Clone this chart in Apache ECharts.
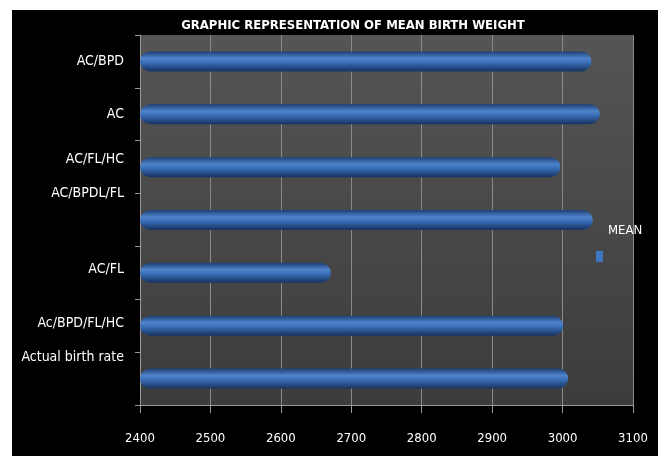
<!DOCTYPE html>
<html>
<head>
<meta charset="utf-8">
<script src="https://cdn.jsdelivr.net/npm/echarts@6/dist/echarts.min.js"></script>
<style>
  html, body { margin: 0; padding: 0; background: #fff; }
  #chart { width: 663px; height: 456px; }
</style>
</head>
<body>
<div id="chart"></div>
<script>
// categories, top to bottom
const categories = ["AC/BPD", "AC", "AC/FL/HC", "AC/BPDL/FL", "AC/FL", "Ac/BPD/FL/HC", "Actual birth rate"];
// mean birth weight (g)
const meanValues = [3041, 3053, 2997, 3043, 2671, 3001, 3008];
// how far each label sits above its bar in the original (px)
const labelLift = [0, 0, 8, 27, 3, 2, 21];
const xTicks = [2400, 3100, 100];

const FONT = "'DejaVu Sans Condensed', 'Liberation Sans', sans-serif";

const chart = echarts.init(document.getElementById("chart"));

const cylinder = new echarts.graphic.LinearGradient(0, 0, 0, 1, [
  { offset: 0, color: "#1f3f74" },
  { offset: 0.35, color: "#4f84cc" },
  { offset: 0.55, color: "#3a6fb8" },
  { offset: 1, color: "#173260" }
]);

// rich styles that lift some labels off their tick
const labelRich = {};
labelLift.forEach((d, i) => {
  labelRich["l" + i] = {
    color: "#fff",
    fontFamily: FONT,
    fontSize: 14,
    padding: [0, 0, d * 2, 0]
  };
});

const option = {
  backgroundColor: "transparent",
  title: {
    text: "GRAPHIC REPRESENTATION OF MEAN BIRTH WEIGHT",
    left: 348,
    textAlign: "center",
    top: 14,
    textStyle: {
      color: "#fff",
      fontFamily: FONT,
      fontWeight: "bold",
      fontSize: 13
    }
  },
  graphic: [
    {
      type: "rect",
      z: -10,
      silent: true,
      shape: { x: 12, y: 10, width: 646, height: 446 },
      style: { fill: "#000" }
    }
  ],
  legend: {
    data: ["MEAN"],
    left: 591,
    top: 219,
    icon: "rect",
    itemWidth: 7,
    itemHeight: 11,
    itemGap: 0,
    itemStyle: { color: "#3f76c2" },
    formatter: "{m|{name}}",
    textStyle: {
      color: "#fff",
      rich: {
        m: {
          color: "#fff",
          fontFamily: FONT,
          fontSize: 13,
          padding: [0, 0, 52, 0]
        }
      }
    }
  },
  grid: {
    left: 140,
    right: 30,
    top: 35,
    bottom: 51,
    show: true,
    borderWidth: 0,
    backgroundColor: new echarts.graphic.LinearGradient(0, 0, 0, 1, [
      { offset: 0, color: "#555" },
      { offset: 1, color: "#3c3c3c" }
    ])
  },
  xAxis: {
    type: "value",
    min: xTicks[0],
    max: xTicks[1],
    interval: xTicks[2],
    axisLine: { show: true, lineStyle: { color: "#999", width: 1 } },
    axisTick: { show: true, length: 8, lineStyle: { color: "#999" } },
    axisLabel: {
      color: "#fff",
      fontFamily: FONT,
      fontSize: 13,
      margin: 27,
      formatter: (v) => String(v)
    },
    splitLine: { show: true, lineStyle: { color: "#8a8a8a", width: 1 } }
  },
  yAxis: {
    type: "category",
    inverse: true,
    data: categories,
    axisLine: { show: true, lineStyle: { color: "#999", width: 1 } },
    axisTick: { show: true, length: 5, lineStyle: { color: "#999" } },
    axisLabel: {
      color: "#fff",
      fontFamily: FONT,
      fontSize: 14,
      margin: 16,
      formatter: (v, i) => "{l" + i + "|" + v + "}",
      rich: labelRich
    }
  },
  series: [
    {
      name: "MEAN",
      type: "bar",
      data: meanValues,
      barWidth: 20,
      itemStyle: {
        color: cylinder,
        borderRadius: 10
      }
    }
  ]
};

chart.setOption(option);
</script>
</body>
</html>
